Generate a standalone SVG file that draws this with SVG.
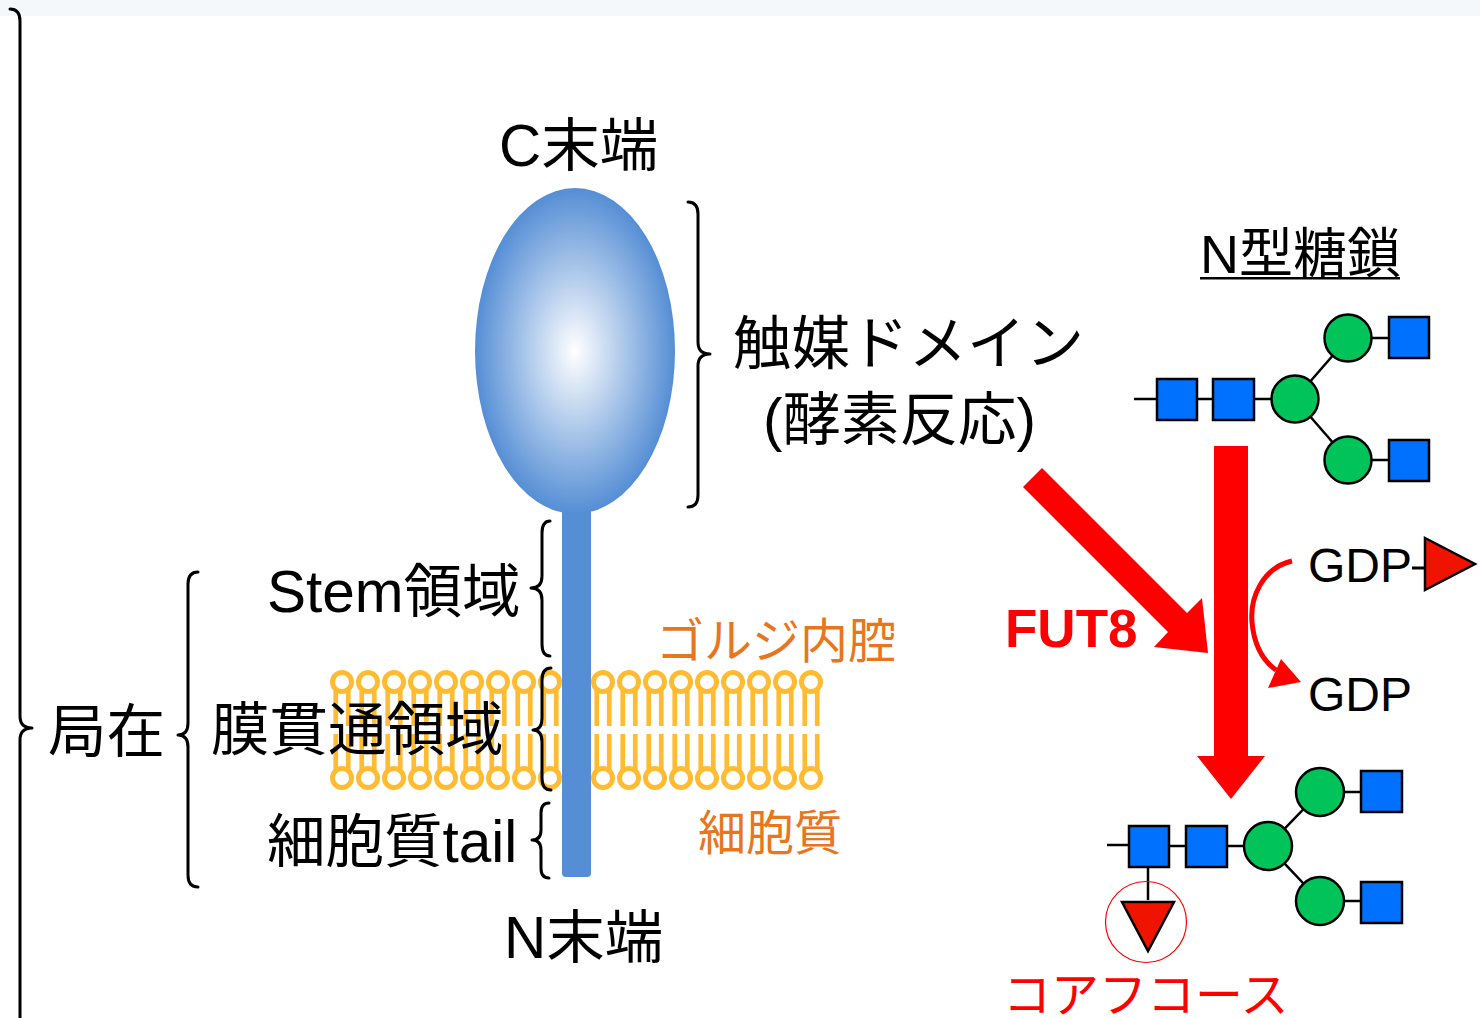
<svg xmlns="http://www.w3.org/2000/svg" width="1480" height="1018" viewBox="0 0 1480 1018">
  <defs>
    <style>
      .txt { font-family: "Liberation Sans", "Noto Sans CJK JP", sans-serif; fill: #000; }
      .big { font-size: 58.5px; }
      .orange { font-size: 48px; fill: #E8761F; }
      .red { fill: #FF0000; }
      .brace { fill: none; stroke: #000; stroke-width: 3; stroke-linecap: round; stroke-linejoin: round; }
      .head { fill: #fff; stroke: #FFBC33; stroke-width: 5; }
      .tail { fill: #FFBC33; }
      .glc { stroke: #000; stroke-width: 2.5; }
      .sq { fill: #0070FF; stroke: #000; stroke-width: 2.5; }
      .ci { fill: #00C45A; stroke: #000; stroke-width: 2.5; }
      .fuc { fill: #F01400; stroke: #000; stroke-width: 2.5; stroke-linejoin: miter; }
      .bigarrow { fill: #FF0000; }
    </style>
    <radialGradient id="domainGrad" cx="0.5" cy="0.5" r="0.5">
      <stop offset="0" stop-color="#FFFFFF"/>
      <stop offset="1" stop-color="#558ED5"/>
    </radialGradient>
    <!-- one phospholipid of the upper leaflet: head at origin, two tails downward -->
    <g id="lipidUp">
      <rect class="tail" x="-8.6" y="8" width="4.7" height="36"/>
      <rect class="tail" x="3.9" y="8" width="4.7" height="36"/>
      <circle class="head" cx="0" cy="0" r="9.5"/>
    </g>
    <!-- lower leaflet lipid: tails upward -->
    <g id="lipidDown">
      <rect class="tail" x="-8.6" y="-44" width="4.7" height="36"/>
      <rect class="tail" x="3.9" y="-44" width="4.7" height="36"/>
      <circle class="head" cx="0" cy="0" r="9.5"/>
    </g>
  </defs>

  <rect x="0" y="0" width="1480" height="1018" fill="#FFFFFF"/>
  <rect x="0" y="0" width="1480" height="16" fill="#F5F8FB"/>

  <!-- lipid bilayer -->
  <g id="membrane">
    <g transform="translate(0,682)">
      <use href="#lipidUp" x="342"/><use href="#lipidUp" x="368"/><use href="#lipidUp" x="394"/>
      <use href="#lipidUp" x="420"/><use href="#lipidUp" x="446"/><use href="#lipidUp" x="472"/>
      <use href="#lipidUp" x="498"/><use href="#lipidUp" x="524"/><use href="#lipidUp" x="550"/>
      <use href="#lipidUp" x="603"/><use href="#lipidUp" x="629"/><use href="#lipidUp" x="655"/>
      <use href="#lipidUp" x="681"/><use href="#lipidUp" x="707"/><use href="#lipidUp" x="733"/>
      <use href="#lipidUp" x="759"/><use href="#lipidUp" x="785"/><use href="#lipidUp" x="811"/>
    </g>
    <g transform="translate(0,778)">
      <use href="#lipidDown" x="342"/><use href="#lipidDown" x="368"/><use href="#lipidDown" x="394"/>
      <use href="#lipidDown" x="420"/><use href="#lipidDown" x="446"/><use href="#lipidDown" x="472"/>
      <use href="#lipidDown" x="498"/><use href="#lipidDown" x="524"/><use href="#lipidDown" x="550"/>
      <use href="#lipidDown" x="603"/><use href="#lipidDown" x="629"/><use href="#lipidDown" x="655"/>
      <use href="#lipidDown" x="681"/><use href="#lipidDown" x="707"/><use href="#lipidDown" x="733"/>
      <use href="#lipidDown" x="759"/><use href="#lipidDown" x="785"/><use href="#lipidDown" x="811"/>
    </g>
  </g>

  <!-- FUT8 enzyme: stem and catalytic domain -->
  <g id="enzyme">
    <rect x="562" y="505" width="29" height="372" rx="4" fill="#558ED5"/>
    <ellipse cx="575" cy="351" rx="100" ry="163" fill="url(#domainGrad)"/>
  </g>

  <!-- braces -->
  <g id="braces">
    <path class="brace" d="M10,9 Q20,9 20,21 L20,716 Q20,728 32,728 Q20,728 20,740 L20,1040"/>
    <path class="brace" d="M198,572 Q188,572 188,584 L188,723 Q188,735 178,735 Q188,735 188,747 L188,875 Q188,887 198,887"/>
    <path class="brace" d="M688,202 Q698,202 698,214 L698,342 Q698,354 710,354 Q698,354 698,366 L698,495 Q698,507 688,507"/>
    <path class="brace" d="M550,521 Q542,521 542,533 L542,576 Q542,588 531,588 Q542,588 542,600 L542,644 Q542,656 550,656"/>
    <path class="brace" d="M551,668 Q542,668 542,680 L542,718 Q542,730 533,730 Q542,730 542,742 L542,778 Q542,790 551,790"/>
    <path class="brace" d="M549,803 Q541,803 541,813 L541,830 Q541,840 532,840 Q541,840 541,850 L541,868 Q541,878 549,878"/>
  </g>

  <!-- labels of the enzyme -->
  <g id="labels">
    <text class="txt big" x="499" y="166">C末端</text>
    <text class="txt big" x="733" y="364">触媒ドメイン</text>
    <text class="txt big" x="763" y="440">(酵素反応)</text>
    <text class="txt big" x="267" y="612">Stem領域</text>
    <text class="txt big" x="48" y="752">局在</text>
    <text class="txt big" x="211" y="750">膜貫通領域</text>
    <text class="txt big" x="267" y="862">細胞質tail</text>
    <text class="txt big" x="504" y="958">N末端</text>
    <text class="txt orange" x="656" y="658">ゴルジ内腔</text>
    <text class="txt orange" x="698" y="850">細胞質</text>
  </g>

  <!-- reaction arrows -->
  <g id="connectors">
    <polygon class="bigarrow" points="1042,468 1187,613 1202,598 1208,653 1154,647 1168,632 1023,487"/>
    <polygon class="bigarrow" points="1214,446 1248,446 1248,756 1265,756 1231,799 1197,756 1214,756"/>
    <path d="M1292,561 C1262,568 1250,598 1252,622 C1254,645 1262,660 1276,670" fill="none" stroke="#FF0000" stroke-width="5"/>
    <polygon points="1268,688 1301,682 1281,659" fill="#FF0000"/>
  </g>

  <text class="txt red" x="1005" y="647" font-size="53" font-weight="bold">FUT8</text>

  <!-- N-glycan substrate -->
  <g id="glycan-substrate">
    <text class="txt" x="1200" y="273" font-size="54">N型糖鎖</text>
    <rect x="1200" y="277" width="200" height="2.5" fill="#000"/>
    <line class="glc" x1="1134" y1="399" x2="1157" y2="399"/>
    <line class="glc" x1="1197" y1="399" x2="1213" y2="399"/>
    <line class="glc" x1="1254" y1="399" x2="1272" y2="399"/>
    <line class="glc" x1="1295" y1="399" x2="1348" y2="338"/>
    <line class="glc" x1="1295" y1="399" x2="1348" y2="460"/>
    <line class="glc" x1="1348" y1="338" x2="1389" y2="338"/>
    <line class="glc" x1="1348" y1="460" x2="1389" y2="460"/>
    <rect class="sq" x="1157" y="379" width="40" height="41"/>
    <rect class="sq" x="1213" y="379" width="41" height="41"/>
    <circle class="ci" cx="1295" cy="399" r="23.5"/>
    <circle class="ci" cx="1348" cy="338" r="23.5"/>
    <circle class="ci" cx="1348" cy="460" r="23.5"/>
    <rect class="sq" x="1389" y="317" width="40" height="41"/>
    <rect class="sq" x="1389" y="440" width="40" height="41"/>
  </g>

  <!-- GDP-fucose donor and GDP -->
  <g id="donor">
    <text class="txt" x="1308" y="582" font-size="48">GDP</text>
    <line x1="1412" y1="568" x2="1426" y2="568" stroke="#000" stroke-width="3"/>
    <polygon class="fuc" points="1425,538 1475,564 1425,590"/>
  </g>
  <g id="gdp">
    <text class="txt" x="1308" y="711" font-size="48">GDP</text>
  </g>

  <!-- core-fucosylated N-glycan product -->
  <g id="glycan-product">
    <line class="glc" x1="1107" y1="845" x2="1129" y2="845"/>
    <line class="glc" x1="1169" y1="846" x2="1186" y2="846"/>
    <line class="glc" x1="1227" y1="846" x2="1245" y2="846"/>
    <line class="glc" x1="1268" y1="846" x2="1320" y2="792"/>
    <line class="glc" x1="1268" y1="846" x2="1320" y2="901"/>
    <line class="glc" x1="1320" y1="792" x2="1361" y2="792"/>
    <line class="glc" x1="1320" y1="901" x2="1361" y2="901"/>
    <line class="glc" x1="1148" y1="867" x2="1148" y2="900"/>
    <rect class="sq" x="1129" y="826" width="40" height="41"/>
    <rect class="sq" x="1186" y="826" width="41" height="41"/>
    <circle class="ci" cx="1268" cy="846" r="24"/>
    <circle class="ci" cx="1320" cy="792" r="24"/>
    <circle class="ci" cx="1320" cy="901" r="24"/>
    <rect class="sq" x="1361" y="771" width="41" height="41"/>
    <rect class="sq" x="1361" y="882" width="41" height="41"/>
    <polygon class="fuc" points="1122,902 1174,902 1148,951"/>
    <circle cx="1146" cy="922" r="40.5" fill="none" stroke="#FF0000" stroke-width="1.2"/>
    <text class="txt red" x="1003" y="1012" font-size="48">コアフコース</text>
  </g>
</svg>
